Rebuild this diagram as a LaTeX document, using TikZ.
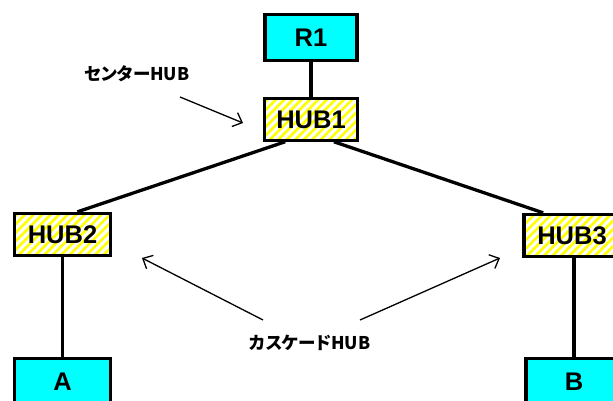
\documentclass[tikz,border=0pt]{standalone}
\usepackage{fontspec}
\setmainfont{Liberation Sans}
\newfontfamily\jpfont[RawFeature=+palt]{Noto Sans CJK JP}
\usetikzlibrary{arrows.meta, positioning, calc, patterns.meta}
\definecolor{hostcyan}{HTML}{00FFFF}
\definecolor{stripe}{HTML}{FFFF00}

\begin{document}
\begin{tikzpicture}[
    x=1pt, y=-1pt,
    box/.style={draw, line width=3.3pt, minimum width=96pt, minimum height=42pt, inner sep=0pt,
                font=\fontsize{25.5}{28}\selectfont\bfseries},
    host/.style={box, fill=hostcyan},
    hub/.style={box, preaction={fill=white},
                pattern={Lines[angle=45, distance=6pt, line width=2.6pt]}, pattern color=stripe},
    link/.style={line width=3.3pt},
    arrow/.style={-{Straight Barb[length=8pt, width=15pt]}, line width=1.3pt},
    lbl/.style={font=\jpfont\fontsize{17.5}{20}\selectfont\bfseries}
]
  \useasboundingbox (0,0) rectangle (613,401);

  \node[host, minimum width=92pt, minimum height=46pt] (r1) at (311,37.5) {R1};
  \node[hub, minimum width=93pt, below=35pt of r1] (hub1) {HUB1};
  \node[hub] (hub2) at (62.5,234.5) {HUB2};
  \node[hub] (hub3) at (572,235.5) {HUB3};
  \node[host, minimum height=46pt, below=100pt of hub2] (a) {A};
  \node[host, minimum height=46pt, below=99pt of hub3, xshift=2pt] (b) {B};

  \node[lbl] (center) at (137,74) {センターHUB};
  \node[lbl] (cascade) at (310,343) {カスケードHUB};

  % uplinks
  \draw[link] (r1) -- (hub1);
  \draw[link] ($(hub1.south west)!0.23!(hub1.south east)$) -- ($(hub2.north west)!0.65!(hub2.north east)$);
  \draw[link] ($(hub1.south west)!0.74!(hub1.south east)$) -- ($(hub3.north west)!0.21!(hub3.north east)$);
  \draw[link] (hub2) -- (a);
  \draw[link] (hub3.south -| b.north) -- (b.north);

  % callouts
  \coordinate (c1s) at (180,97);
  \coordinate (c1e) at (243,123);
  \coordinate (c2s) at (263,320);
  \coordinate (c2e) at (142,258);
  \coordinate (c3s) at (360,320);
  \coordinate (c3e) at (500,258);
  \draw[arrow] (c1s) -- (c1e);
  \draw[arrow] (c2s) -- (c2e);
  \draw[arrow] (c3s) -- (c3e);
\end{tikzpicture}
\end{document}
